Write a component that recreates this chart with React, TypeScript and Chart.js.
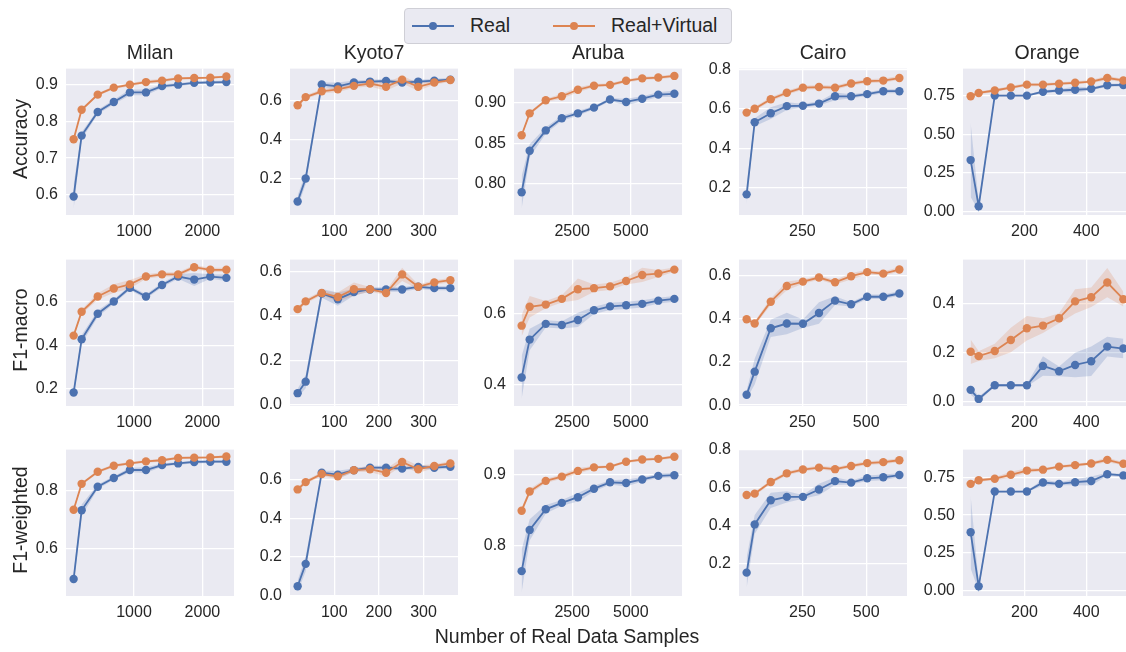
import React, { useEffect, useRef } from "react";
import { Chart, registerables } from "chart.js";
Chart.register(...registerables);

// ---------- labels ----------
const datasetNames = ["Milan", "Kyoto7", "Aruba", "Cairo", "Orange"];
const metricNames = ["Accuracy", "F1-macro", "F1-weighted"];
const seriesNames = ["Real", "Real+Virtual"];
const xAxisTitle = "Number of Real Data Samples";

// ---------- x values (number of real samples) ----------
const milanX = [118, 235, 470, 705, 940, 1175, 1410, 1645, 1880, 2115, 2350];
const kyotoX = [18, 36, 72, 108, 144, 180, 216, 252, 288, 324, 360];
const arubaX = [343, 686, 1372, 2058, 2744, 3430, 4116, 4802, 5488, 6174, 6860];
const cairoX = [31.5, 63, 126, 189, 252, 315, 378, 441, 504, 567, 630];
const orangeX = [26, 52, 104, 156, 208, 260, 312, 364, 416, 468, 520];

// ---------- x tick labels ----------
const milanXTicks = [1000, 2000];
const kyotoXTicks = [100, 200, 300];
const arubaXTicks = [2500, 5000];
const cairoXTicks = [250, 500];
const orangeXTicks = [200, 400];

// ---------- Milan ----------
const milanAccReal = [0.596, 0.761, 0.825, 0.852, 0.878, 0.878, 0.895, 0.899, 0.904, 0.905, 0.906];
const milanAccRealBand = [0.033, 0.01, 0.006, 0.006, 0.008, 0.008, 0.005, 0.004, 0.004, 0.004, 0.004];
const milanAccVirt = [0.751, 0.831, 0.872, 0.891, 0.899, 0.906, 0.91, 0.916, 0.917, 0.918, 0.921];
const milanAccVirtBand = [0.004, 0.004, 0.004, 0.004, 0.004, 0.005, 0.005, 0.003, 0.003, 0.003, 0.003];
const milanF1mReal = [0.182, 0.427, 0.545, 0.601, 0.664, 0.624, 0.677, 0.716, 0.702, 0.716, 0.71];
const milanF1mRealBand = [0.02, 0.02, 0.015, 0.01, 0.01, 0.01, 0.01, 0.01, 0.03, 0.01, 0.015];
const milanF1mVirt = [0.444, 0.554, 0.624, 0.661, 0.68, 0.716, 0.726, 0.726, 0.759, 0.747, 0.747];
const milanF1mVirtBand = [0.01, 0.01, 0.015, 0.02, 0.02, 0.01, 0.01, 0.01, 0.01, 0.01, 0.01];
const milanF1wReal = [0.494, 0.733, 0.815, 0.845, 0.873, 0.873, 0.89, 0.896, 0.901, 0.902, 0.902];
const milanF1wRealBand = [0.02, 0.02, 0.008, 0.006, 0.008, 0.01, 0.006, 0.005, 0.005, 0.005, 0.005];
const milanF1wVirt = [0.735, 0.825, 0.867, 0.888, 0.896, 0.903, 0.907, 0.915, 0.916, 0.917, 0.92];
const milanF1wVirtBand = [0.005, 0.005, 0.005, 0.005, 0.005, 0.005, 0.005, 0.004, 0.004, 0.004, 0.004];

// ---------- Kyoto7 ----------
const kyotoAccReal = [0.082, 0.2, 0.685, 0.675, 0.695, 0.7, 0.703, 0.695, 0.7, 0.705, 0.71];
const kyotoAccRealBand = [0.03, 0.03, 0.01, 0.02, 0.01, 0.01, 0.01, 0.01, 0.01, 0.01, 0.01];
const kyotoAccVirt = [0.578, 0.62, 0.65, 0.66, 0.678, 0.69, 0.673, 0.71, 0.673, 0.695, 0.708];
const kyotoAccVirtBand = [0.01, 0.01, 0.01, 0.015, 0.01, 0.015, 0.02, 0.02, 0.02, 0.01, 0.01];
const kyotoF1mReal = [0.051, 0.103, 0.502, 0.476, 0.508, 0.52, 0.52, 0.52, 0.532, 0.526, 0.526];
const kyotoF1mRealBand = [0.02, 0.03, 0.02, 0.03, 0.015, 0.01, 0.01, 0.01, 0.01, 0.01, 0.01];
const kyotoF1mVirt = [0.431, 0.466, 0.504, 0.486, 0.521, 0.521, 0.504, 0.588, 0.532, 0.552, 0.562];
const kyotoF1mVirtBand = [0.01, 0.01, 0.01, 0.02, 0.03, 0.01, 0.01, 0.03, 0.01, 0.01, 0.01];
const kyotoF1wReal = [0.047, 0.163, 0.637, 0.627, 0.65, 0.663, 0.663, 0.658, 0.667, 0.663, 0.668];
const kyotoF1wRealBand = [0.03, 0.04, 0.01, 0.02, 0.01, 0.01, 0.01, 0.01, 0.01, 0.01, 0.01];
const kyotoF1wVirt = [0.55, 0.588, 0.63, 0.618, 0.65, 0.655, 0.637, 0.693, 0.655, 0.672, 0.685];
const kyotoF1wVirtBand = [0.01, 0.01, 0.01, 0.015, 0.01, 0.015, 0.02, 0.02, 0.02, 0.01, 0.01];

// ---------- Aruba ----------
const arubaAccReal = [0.79, 0.841, 0.866, 0.881, 0.887, 0.894, 0.904, 0.901, 0.905, 0.91, 0.911];
const arubaAccRealBand = [0.02, 0.008, 0.004, 0.003, 0.003, 0.002, 0.002, 0.004, 0.003, 0.003, 0.004];
const arubaAccVirt = [0.86, 0.887, 0.903, 0.908, 0.916, 0.921, 0.922, 0.927, 0.93, 0.931, 0.933];
const arubaAccVirtBand = [0.002, 0.002, 0.002, 0.003, 0.003, 0.002, 0.002, 0.002, 0.002, 0.002, 0.002];
const arubaF1mReal = [0.421, 0.527, 0.571, 0.568, 0.582, 0.609, 0.62, 0.623, 0.627, 0.636, 0.641];
const arubaF1mRealBand = [0.06, 0.03, 0.01, 0.01, 0.02, 0.01, 0.01, 0.01, 0.01, 0.008, 0.008];
const arubaF1mVirt = [0.566, 0.619, 0.625, 0.641, 0.668, 0.671, 0.676, 0.691, 0.708, 0.712, 0.723];
const arubaF1mVirtBand = [0.03, 0.03, 0.01, 0.01, 0.03, 0.01, 0.01, 0.01, 0.02, 0.01, 0.006];
const arubaF1wReal = [0.764, 0.822, 0.851, 0.86, 0.868, 0.88, 0.889, 0.888, 0.893, 0.898, 0.899];
const arubaF1wRealBand = [0.03, 0.015, 0.006, 0.004, 0.006, 0.004, 0.003, 0.005, 0.003, 0.003, 0.003];
const arubaF1wVirt = [0.849, 0.876, 0.891, 0.897, 0.905, 0.91, 0.911, 0.918, 0.921, 0.922, 0.925];
const arubaF1wVirtBand = [0.004, 0.004, 0.003, 0.003, 0.004, 0.002, 0.002, 0.002, 0.002, 0.002, 0.002];

// ---------- Cairo ----------
const cairoAccReal = [0.165, 0.532, 0.578, 0.614, 0.616, 0.627, 0.664, 0.664, 0.675, 0.69, 0.69];
const cairoAccRealBand = [0.05, 0.02, 0.03, 0.02, 0.01, 0.01, 0.02, 0.01, 0.01, 0.01, 0.01];
const cairoAccVirt = [0.581, 0.601, 0.649, 0.682, 0.708, 0.711, 0.708, 0.729, 0.741, 0.744, 0.757];
const cairoAccVirtBand = [0.01, 0.01, 0.01, 0.01, 0.01, 0.01, 0.01, 0.01, 0.01, 0.01, 0.01];
const cairoF1mReal = [0.048, 0.155, 0.356, 0.378, 0.377, 0.427, 0.484, 0.467, 0.502, 0.502, 0.517];
const cairoF1mRealBand = [0.02, 0.06, 0.04, 0.05, 0.02, 0.05, 0.02, 0.01, 0.01, 0.01, 0.01];
const cairoF1mVirt = [0.398, 0.378, 0.479, 0.552, 0.572, 0.591, 0.569, 0.597, 0.616, 0.609, 0.628];
const cairoF1mVirtBand = [0.01, 0.01, 0.015, 0.02, 0.01, 0.01, 0.01, 0.015, 0.01, 0.01, 0.01];
const cairoF1wReal = [0.154, 0.408, 0.535, 0.553, 0.553, 0.592, 0.636, 0.628, 0.651, 0.656, 0.668];
const cairoF1wRealBand = [0.08, 0.05, 0.04, 0.03, 0.01, 0.03, 0.02, 0.01, 0.015, 0.015, 0.01];
const cairoF1wVirt = [0.563, 0.57, 0.631, 0.677, 0.697, 0.707, 0.699, 0.716, 0.731, 0.736, 0.746];
const cairoF1wVirtBand = [0.01, 0.01, 0.01, 0.01, 0.01, 0.01, 0.01, 0.01, 0.01, 0.01, 0.01];

// ---------- Orange ----------
const orangeAccReal = [0.334, 0.035, 0.752, 0.752, 0.752, 0.777, 0.785, 0.79, 0.796, 0.819, 0.821];
const orangeAccRealBand = [0.24, 0.03, 0.005, 0.005, 0.005, 0.01, 0.01, 0.02, 0.01, 0.01, 0.01];
const orangeAccVirt = [0.748, 0.769, 0.785, 0.804, 0.823, 0.823, 0.829, 0.835, 0.843, 0.866, 0.85];
const orangeAccVirtBand = [0.01, 0.01, 0.01, 0.01, 0.01, 0.01, 0.01, 0.01, 0.01, 0.015, 0.01];
const orangeF1mReal = [0.049, 0.012, 0.068, 0.068, 0.068, 0.147, 0.125, 0.151, 0.166, 0.226, 0.218];
const orangeF1mRealBand = [0.02, 0.01, 0.005, 0.005, 0.005, 0.04, 0.02, 0.05, 0.06, 0.04, 0.04];
const orangeF1mVirt = [0.205, 0.187, 0.208, 0.253, 0.301, 0.312, 0.342, 0.411, 0.428, 0.488, 0.42];
const orangeF1mVirtBand = [0.05, 0.02, 0.03, 0.05, 0.05, 0.03, 0.02, 0.05, 0.04, 0.06, 0.03];
const orangeF1wReal = [0.386, 0.028, 0.656, 0.656, 0.656, 0.716, 0.707, 0.718, 0.726, 0.771, 0.763];
const orangeF1wRealBand = [0.24, 0.03, 0.005, 0.005, 0.005, 0.02, 0.01, 0.02, 0.03, 0.01, 0.01];
const orangeF1wVirt = [0.707, 0.731, 0.741, 0.767, 0.795, 0.801, 0.821, 0.831, 0.842, 0.866, 0.84];
const orangeF1wVirtBand = [0.01, 0.01, 0.01, 0.02, 0.015, 0.01, 0.01, 0.01, 0.01, 0.015, 0.01];

// ---------- y tick labels ----------
const milanAccYTicks = [0.6, 0.7, 0.8, 0.9];
const milanF1mYTicks = [0.2, 0.4, 0.6];
const milanF1wYTicks = [0.6, 0.8];
const kyotoAccYTicks = [0.2, 0.4, 0.6];
const kyotoF1mYTicks = [0.0, 0.2, 0.4, 0.6];
const kyotoF1wYTicks = [0.0, 0.2, 0.4, 0.6];
const arubaAccYTicks = [0.8, 0.85, 0.9];
const arubaF1mYTicks = [0.4, 0.6];
const arubaF1wYTicks = [0.8, 0.9];
const cairoAccYTicks = [0.2, 0.4, 0.6, 0.8];
const cairoF1mYTicks = [0.0, 0.2, 0.4, 0.6];
const cairoF1wYTicks = [0.2, 0.4, 0.6, 0.8];
const orangeAccYTicks = [0.0, 0.25, 0.5, 0.75];
const orangeF1mYTicks = [0.0, 0.2, 0.4];
const orangeF1wYTicks = [0.0, 0.25, 0.5, 0.75];

// ---------- y ranges ----------
const milanAccYRange = [0.546, 0.9425];
const milanF1mYRange = [0.12, 0.794];
const milanF1wYRange = [0.435, 0.944];
const kyotoAccYRange = [0.012, 0.767];
const kyotoF1mYRange = [-0.007, 0.655];
const kyotoF1wYRange = [-0.004, 0.757];
const arubaAccYRange = [0.762, 0.942];
const arubaF1mYRange = [0.341, 0.751];
const arubaF1wYRange = [0.729, 0.935];
const cairoAccYRange = [0.06, 0.805];
const cairoF1mYRange = [-0.004, 0.674];
const cairoF1wYRange = [0.031, 0.802];
const orangeAccYRange = [-0.022, 0.927];
const orangeF1mYRange = [-0.017, 0.582];
const orangeF1wYRange = [-0.036, 0.934];

// ---------- styling ----------
const BLUE = "#4C72B0";
const ORANGE = "#DD8452";
const BLUE_FILL = "rgba(76,114,176,0.22)";
const ORANGE_FILL = "rgba(221,132,82,0.22)";
const TEXT = "#262626";
const FONT = "'Liberation Sans', Arial, Helvetica, sans-serif";
const PLOT_BG = "#EAEAF2";

const COL_LEFT = [66, 290, 514, 739, 963];
const ROW_TOP = [63, 254, 444];
const PLOT_W = 168;
const PLOT_H = 152;
const PAD_L = 56;
const PAD_T = 12;
const PAD_R = 6;
const PAD_B = 32;

type PanelSpec = {
  x: number[];
  xTicks: number[];
  real: number[];
  realBand: number[];
  virt: number[];
  virtBand: number[];
  yTicks: number[];
  yDec: number;
  yRange: number[];
};

const columns = [
  { x: milanX, xTicks: milanXTicks },
  { x: kyotoX, xTicks: kyotoXTicks },
  { x: arubaX, xTicks: arubaXTicks },
  { x: cairoX, xTicks: cairoXTicks },
  { x: orangeX, xTicks: orangeXTicks },
];

const panelRows: Omit<PanelSpec, "x" | "xTicks">[][] = [
  [
    { real: milanAccReal, realBand: milanAccRealBand, virt: milanAccVirt, virtBand: milanAccVirtBand, yTicks: milanAccYTicks, yDec: 1, yRange: milanAccYRange },
    { real: kyotoAccReal, realBand: kyotoAccRealBand, virt: kyotoAccVirt, virtBand: kyotoAccVirtBand, yTicks: kyotoAccYTicks, yDec: 1, yRange: kyotoAccYRange },
    { real: arubaAccReal, realBand: arubaAccRealBand, virt: arubaAccVirt, virtBand: arubaAccVirtBand, yTicks: arubaAccYTicks, yDec: 2, yRange: arubaAccYRange },
    { real: cairoAccReal, realBand: cairoAccRealBand, virt: cairoAccVirt, virtBand: cairoAccVirtBand, yTicks: cairoAccYTicks, yDec: 1, yRange: cairoAccYRange },
    { real: orangeAccReal, realBand: orangeAccRealBand, virt: orangeAccVirt, virtBand: orangeAccVirtBand, yTicks: orangeAccYTicks, yDec: 2, yRange: orangeAccYRange },
  ],
  [
    { real: milanF1mReal, realBand: milanF1mRealBand, virt: milanF1mVirt, virtBand: milanF1mVirtBand, yTicks: milanF1mYTicks, yDec: 1, yRange: milanF1mYRange },
    { real: kyotoF1mReal, realBand: kyotoF1mRealBand, virt: kyotoF1mVirt, virtBand: kyotoF1mVirtBand, yTicks: kyotoF1mYTicks, yDec: 1, yRange: kyotoF1mYRange },
    { real: arubaF1mReal, realBand: arubaF1mRealBand, virt: arubaF1mVirt, virtBand: arubaF1mVirtBand, yTicks: arubaF1mYTicks, yDec: 1, yRange: arubaF1mYRange },
    { real: cairoF1mReal, realBand: cairoF1mRealBand, virt: cairoF1mVirt, virtBand: cairoF1mVirtBand, yTicks: cairoF1mYTicks, yDec: 1, yRange: cairoF1mYRange },
    { real: orangeF1mReal, realBand: orangeF1mRealBand, virt: orangeF1mVirt, virtBand: orangeF1mVirtBand, yTicks: orangeF1mYTicks, yDec: 1, yRange: orangeF1mYRange },
  ],
  [
    { real: milanF1wReal, realBand: milanF1wRealBand, virt: milanF1wVirt, virtBand: milanF1wVirtBand, yTicks: milanF1wYTicks, yDec: 1, yRange: milanF1wYRange },
    { real: kyotoF1wReal, realBand: kyotoF1wRealBand, virt: kyotoF1wVirt, virtBand: kyotoF1wVirtBand, yTicks: kyotoF1wYTicks, yDec: 1, yRange: kyotoF1wYRange },
    { real: arubaF1wReal, realBand: arubaF1wRealBand, virt: arubaF1wVirt, virtBand: arubaF1wVirtBand, yTicks: arubaF1wYTicks, yDec: 1, yRange: arubaF1wYRange },
    { real: cairoF1wReal, realBand: cairoF1wRealBand, virt: cairoF1wVirt, virtBand: cairoF1wVirtBand, yTicks: cairoF1wYTicks, yDec: 1, yRange: cairoF1wYRange },
    { real: orangeF1wReal, realBand: orangeF1wRealBand, virt: orangeF1wVirt, virtBand: orangeF1wVirtBand, yTicks: orangeF1wYTicks, yDec: 2, yRange: orangeF1wYRange },
  ],
];

const bgPlugin = {
  id: "plotBg",
  beforeDraw(chart: any) {
    const { ctx, chartArea: a } = chart;
    ctx.save();
    ctx.fillStyle = PLOT_BG;
    ctx.fillRect(a.left, a.top, a.right - a.left, a.bottom - a.top);
    ctx.restore();
  },
};

function Panel({ spec, left, top }: { spec: PanelSpec; left: number; top: number }) {
  const ref = useRef<HTMLCanvasElement | null>(null);
  useEffect(() => {
    if (!ref.current) return;
    const { x, xTicks, real, realBand, virt, virtBand, yTicks, yDec, yRange } = spec;
    const xmin = Math.min(...x);
    const xmax = Math.max(...x);
    const m = 0.05 * (xmax - xmin);
    const pts = (ys: number[]) => x.map((v, i) => ({ x: v, y: ys[i] }));
    const lo = (ys: number[], b: number[]) => pts(ys.map((v, i) => v - b[i]));
    const hi = (ys: number[], b: number[]) => pts(ys.map((v, i) => v + b[i]));
    const lineDs = (label: string, data: any, color: string, order: number) => ({
      label,
      data,
      borderColor: color,
      backgroundColor: color,
      borderWidth: 1.8,
      pointRadius: 4.2,
      pointBorderWidth: 0,
      pointBackgroundColor: color,
      fill: false,
      tension: 0,
      clip: false as any,
      order,
    });
    const bandDs = (data: any, fill: any, color: string, order: number) => ({
      label: "",
      data,
      borderWidth: 0,
      borderColor: "rgba(0,0,0,0)",
      pointRadius: 0,
      backgroundColor: color,
      fill,
      tension: 0,
      order,
    });
    const tickFont = { family: FONT, size: 16 };
    const chart = new Chart(ref.current, {
      type: "line",
      data: {
        datasets: [
          lineDs(seriesNames[1], pts(virt), ORANGE, 0),
          lineDs(seriesNames[0], pts(real), BLUE, 1),
          bandDs(lo(virt, virtBand), false, ORANGE_FILL, 2),
          bandDs(hi(virt, virtBand), "-1", ORANGE_FILL, 2),
          bandDs(lo(real, realBand), false, BLUE_FILL, 3),
          bandDs(hi(real, realBand), "-1", BLUE_FILL, 3),
        ],
      },
      options: {
        animation: false,
        responsive: false,
        maintainAspectRatio: false,
        events: [],
        layout: { padding: { left: 0, top: PAD_T, right: PAD_R, bottom: 0 }, autoPadding: false } as any,
        plugins: { legend: { display: false }, tooltip: { enabled: false }, title: { display: false } },
        scales: {
          x: {
            type: "linear",
            min: xmin - m,
            max: xmax + m,
            afterBuildTicks: (s: any) => {
              s.ticks = xTicks.map((v) => ({ value: v }));
            },
            afterFit: (s: any) => {
              s.height = PAD_B;
            },
            grid: { color: "#ffffff", lineWidth: 1.3, drawTicks: false },
            border: { display: false },
            ticks: {
              padding: 7,
              color: TEXT,
              font: tickFont,
              maxRotation: 0,
              autoSkip: false,
              callback: (v: any) => String(v),
            },
          },
          y: {
            type: "linear",
            min: yRange[0],
            max: yRange[1],
            afterBuildTicks: (s: any) => {
              s.ticks = yTicks.map((v) => ({ value: v }));
            },
            afterFit: (s: any) => {
              s.width = PAD_L;
            },
            grid: { color: "#ffffff", lineWidth: 1.3, drawTicks: false },
            border: { display: false },
            ticks: {
              padding: 8,
              color: TEXT,
              font: tickFont,
              autoSkip: false,
              callback: (v: any) => Number(v).toFixed(yDec),
            },
          },
        },
      } as any,
      plugins: [bgPlugin],
    });
    return () => chart.destroy();
  }, [spec]);
  const w = PLOT_W + PAD_L + PAD_R;
  const h = PLOT_H + PAD_T + PAD_B;
  return (
    <canvas
      ref={ref}
      width={w}
      height={h}
      style={{ position: "absolute", left, top, width: w, height: h }}
    />
  );
}

const labelStyle: React.CSSProperties = {
  position: "absolute",
  fontFamily: FONT,
  fontSize: 19.5,
  color: TEXT,
  lineHeight: 1,
  whiteSpace: "nowrap",
  transform: "translate(-50%, -50%)",
};

function LegendItem({ color, label, lineLeft, textLeft }: { color: string; label: string; lineLeft: number; textLeft: number }) {
  return (
    <>
      <div style={{ position: "absolute", left: lineLeft, top: 16.1, width: 42, height: 1.8, background: color }} />
      <div style={{ position: "absolute", left: lineLeft + 17, top: 13, width: 8, height: 8, borderRadius: "50%", background: color }} />
      <div style={{ ...labelStyle, transform: "translate(0, -50%)", left: textLeft, top: 17 }}>{label}</div>
    </>
  );
}

export default function App() {
  const titleCenters = COL_LEFT.map((l) => l + PLOT_W / 2);
  return (
    <div
      style={{
        position: "fixed",
        left: 0,
        top: 0,
        width: 1126,
        height: 652,
        overflow: "hidden",
        background: "#ffffff",
      }}
    >
      {panelRows.map((row, r) =>
        row.map((p, c) => (
          <Panel
            key={`${r}-${c}`}
            spec={{ ...p, x: columns[c].x, xTicks: columns[c].xTicks }}
            left={COL_LEFT[c] - PAD_L}
            top={ROW_TOP[r] - PAD_T}
          />
        ))
      )}
      {datasetNames.map((n, c) => (
        <div key={n} style={{ ...labelStyle, left: titleCenters[c], top: 53 }}>
          {n}
        </div>
      ))}
      {metricNames.map((n, r) => (
        <div
          key={n}
          style={{
            ...labelStyle,
            left: 20.5,
            top: ROW_TOP[r] + PLOT_H / 2,
            transform: "translate(-50%, -50%) rotate(-90deg)",
          }}
        >
          {n}
        </div>
      ))}
      <div style={{ ...labelStyle, left: 567, top: 637 }}>{xAxisTitle}</div>
      <div
        style={{
          position: "absolute",
          left: 404,
          top: 8,
          width: 326,
          height: 34,
          background: PLOT_BG,
          border: "1px solid #cfcfd6",
          borderRadius: 4,
        }}
      >
        <LegendItem color={BLUE} label={seriesNames[0]} lineLeft={7} textLeft={65} />
        <LegendItem color={ORANGE} label={seriesNames[1]} lineLeft={148} textLeft={206} />
      </div>
    </div>
  );
}
